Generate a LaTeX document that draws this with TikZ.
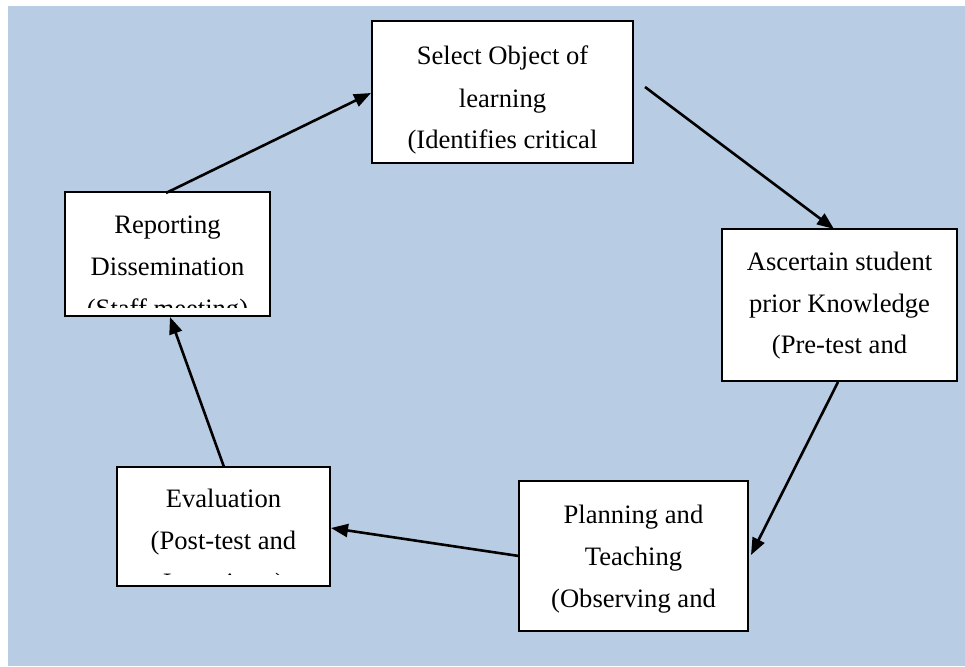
\documentclass[tikz,border=0pt]{standalone}
\usepackage{fontspec}
\setmainfont{Liberation Serif}
\usetikzlibrary{arrows.meta}
\definecolor{bgblue}{HTML}{B8CCE4}
\tikzset{
  stepbox/.style={draw=black, line width=2.5pt, fill=white, inner sep=0pt},
  txt/.style={anchor=base, inner sep=0pt, font=\fontsize{26.6}{42}\selectfont},
  conn/.style={line width=2.6pt, -{Triangle[length=17pt,width=13pt]}},
}
\begin{document}
\begin{tikzpicture}[x=1pt,y=-1pt]
\useasboundingbox (0,0) rectangle (965,666);
\fill[bgblue] (8,6) rectangle (965,666);

% boxes
\node[stepbox, minimum width=261pt, minimum height=142pt] (sel) at (502.5,92) {};
\node[stepbox, minimum width=235pt, minimum height=152pt] (asc) at (839.5,305) {};
\node[stepbox, minimum width=229pt, minimum height=150pt] (pla) at (633.5,556) {};
\node[stepbox, minimum width=213pt, minimum height=119pt] (eva) at (223.5,526.5) {};
\node[stepbox, minimum width=205pt, minimum height=124pt] (rep) at (167.5,254) {};

% texts (clipped inside the boxes)
\begin{scope}
\clip ([shift={(1,1)}]sel.north west) rectangle ([shift={(-1,-10)}]sel.south east);
\node[txt] (sel1) at (502.5,65) {Select Object of};
\node[txt] (sel2) at (502.5,107) {learning};
\node[txt] (sel3) at (502.5,148) {(Identifies critical};
\end{scope}
\begin{scope}
\clip ([shift={(1,1)}]asc.north west) rectangle ([shift={(-1,-10)}]asc.south east);
\node[txt] (asc1) at (839.5,270) {Ascertain student};
\node[txt] (asc2) at (839.5,312) {prior Knowledge};
\node[txt] (asc3) at (839.5,353) {(Pre-test and};
\end{scope}
\begin{scope}
\clip ([shift={(1,1)}]pla.north west) rectangle ([shift={(-1,-10)}]pla.south east);
\node[txt] (pla1) at (633.5,523) {Planning and};
\node[txt] (pla2) at (633.5,565) {Teaching};
\node[txt] (pla3) at (633.5,607) {(Observing and};
\end{scope}
\begin{scope}
\clip ([shift={(1,1)}]eva.north west) rectangle ([shift={(-1,-13)}]eva.south east);
\node[txt] (eva1) at (223.5,507) {Evaluation};
\node[txt] (eva2) at (223.5,549) {(Post-test and};
\node[txt] (eva3) at (223.5,591) {Interviews)};
\end{scope}
\begin{scope}
\clip ([shift={(1,1)}]rep.north west) rectangle ([shift={(-1,-10)}]rep.south east);
\node[txt] (rep1) at (167.5,233) {Reporting};
\node[txt] (rep2) at (167.5,275) {Dissemination};
\node[txt] (rep3) at (167.5,317) {(Staff meeting)};
\end{scope}

% connector end points
\coordinate (a1s) at (166,193);
\coordinate (a1e) at (371,93);
\coordinate (a2s) at (645,87);
\coordinate (a2e) at (834,229);
\coordinate (a3s) at (838,382);
\coordinate (a3e) at (751,555);
\coordinate (a4s) at (519,556);
\coordinate (a4e) at (331,528);
\coordinate (a5s) at (224,467);
\coordinate (a5e) at (170,317);

\draw[conn] (a1s) -- (a1e);
\draw[conn] (a2s) -- (a2e);
\draw[conn] (a3s) -- (a3e);
\draw[conn] (a4s) -- (a4e);
\draw[conn] (a5s) -- (a5e);
\end{tikzpicture}
\end{document}
